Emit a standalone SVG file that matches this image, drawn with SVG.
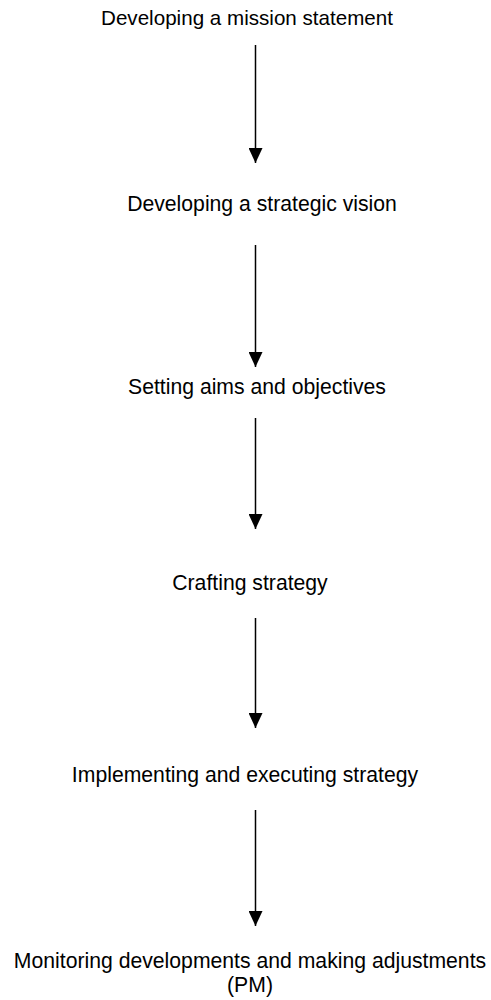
<svg xmlns="http://www.w3.org/2000/svg" width="491" height="1000" viewBox="0 0 491 1000">
  <style>
    .label { font-family: "Liberation Sans", Arial, sans-serif; font-size: 21.2px; fill: #000; text-anchor: middle; }
    .link { stroke: #000; stroke-width: 1.5; fill: none; marker-end: url(#arrow); }
  </style>
  <defs>
    <!-- filled triangular arrowhead, tip at the line end -->
    <marker id="arrow" markerWidth="15" markerHeight="14" refX="15" refY="7" orient="auto" markerUnits="userSpaceOnUse" viewBox="0 0 15 14">
      <path d="M0,0 L15,7 L0,14 Z" fill="#000"/>
    </marker>
  </defs>
  <rect width="491" height="1000" fill="#fff"/>

  <g id="connectors">
    <line class="link" x1="255.5" y1="45" x2="255.5" y2="163"/>
    <line class="link" x1="255.5" y1="245" x2="255.5" y2="367"/>
    <line class="link" x1="255.5" y1="418" x2="255.5" y2="529"/>
    <line class="link" x1="255.5" y1="618" x2="255.5" y2="728"/>
    <line class="link" x1="255.5" y1="810" x2="255.5" y2="926"/>
  </g>

  <g id="mission"><text class="label" x="247" y="25" style="font-size:20.6px">Developing a mission statement</text></g>
  <g id="vision"><text class="label" x="262" y="211">Developing a strategic vision</text></g>
  <g id="aims"><text class="label" x="257" y="394">Setting aims and objectives</text></g>
  <g id="crafting"><text class="label" x="250" y="590">Crafting strategy</text></g>
  <g id="implementing"><text class="label" x="245" y="782">Implementing and executing strategy</text></g>
  <g id="monitoring">
    <text class="label" y="967.5"><tspan x="250">Monitoring developments and making adjustments</tspan><tspan x="250" dy="24">(PM)</tspan></text>
  </g>
</svg>
